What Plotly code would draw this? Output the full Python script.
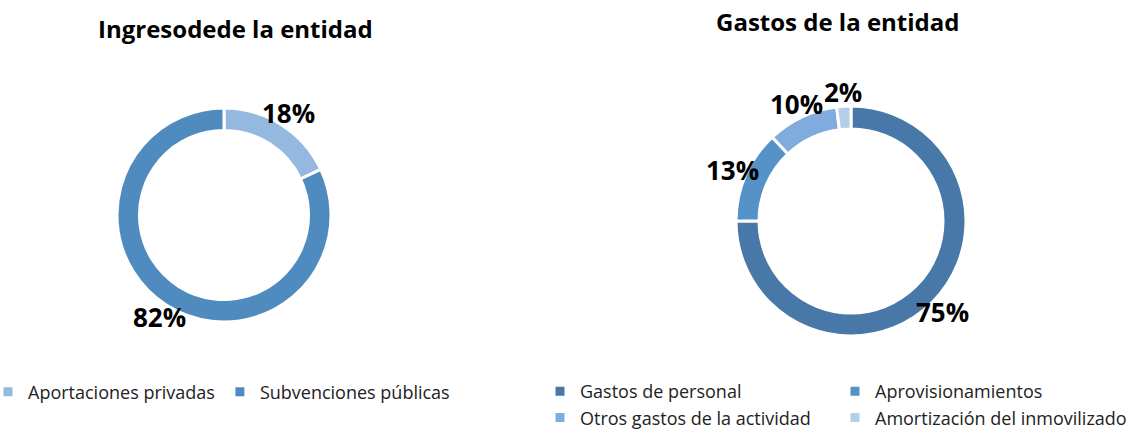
import math
import plotly.graph_objects as go

ing_labels = ["Aportaciones privadas", "Subvenciones públicas"]
ing_values = [18, 82]
ing_colors = ["#95B8E0", "#4F8BBF"]

gas_labels = ["Gastos de personal", "Aprovisionamientos", "Otros gastos de la actividad", "Amortización del inmovilizado"]
gas_values = [75, 13, 10, 2]
gas_colors = ["#4878A8", "#5592C8", "#7FACDC", "#B4CDE8"]

FONT = "Open Sans, Noto Sans, sans-serif"
W, H = 1129, 437
ML, MR = 112, 157          # plot-area margins (lets the right legend wrap into two columns)
PW = W - ML - MR

# donut geometry (pixels): centre x, centre y, outer radius
ING_GEOM = (224, 215, 107)
GAS_GEOM = (851, 221, 115)


def px(x):
    return (x - ML) / PW


def py(y):
    return 1 - y / H


def dom(cx, cy, r):
    return dict(x=[px(cx - r), px(cx + r)], y=[py(cy + r), py(cy - r)])


def pct_labels(values, geom, offset):
    """Outside-end percentage labels placed at each slice's mid-angle (clockwise from top)."""
    cx, cy, r = geom
    total = sum(values)
    out, cum = [], 0
    for v in values:
        mid = (cum + v / 2) / total
        cum += v
        th = 2 * math.pi * mid
        rl = r + offset
        out.append(dict(
            text=f"<b>{round(100 * v / total)}%</b>",
            x=px(cx + rl * math.sin(th)), y=py(cy - rl * math.cos(th)),
            xref="paper", yref="paper", showarrow=False, xanchor="center", yanchor="middle",
            font=dict(family=FONT, size=26, color="black"),
        ))
    return out


fig = go.Figure()
fig.add_trace(go.Pie(
    labels=ing_labels, values=ing_values, sort=False, direction="clockwise", rotation=0,
    hole=0.79, marker=dict(colors=ing_colors, line=dict(color="white", width=3)),
    textinfo="none", domain=dom(*ING_GEOM),
    legend="legend", hoverinfo="skip",
))
fig.add_trace(go.Pie(
    labels=gas_labels, values=gas_values, sort=False, direction="clockwise", rotation=0,
    hole=0.8, marker=dict(colors=gas_colors, line=dict(color="white", width=3)),
    textinfo="none", domain=dom(*GAS_GEOM),
    legend="legend2", hoverinfo="skip",
))

annotations = [
    dict(text="<b>Ingresodede la entidad</b>", x=px(235), y=py(28), xref="paper", yref="paper",
         showarrow=False, font=dict(size=24, family=FONT, color="black"), xanchor="center", yanchor="middle"),
    dict(text="<b>Gastos de la entidad</b>", x=px(837), y=py(22), xref="paper", yref="paper",
         showarrow=False, font=dict(size=24, family=FONT, color="black"), xanchor="center", yanchor="middle"),
]
annotations += pct_labels(ing_values, ING_GEOM, 14)
annotations += pct_labels(gas_values, GAS_GEOM, 14)

fig.update_layout(
    width=W, height=H,
    margin=dict(l=ML, r=MR, t=0, b=0, autoexpand=False),
    paper_bgcolor="white", plot_bgcolor="white",
    font=dict(family=FONT, color="#222222"),
    legend=dict(orientation="h", x=px(-12), y=py(392), xanchor="left", yanchor="middle",
                font=dict(size=18, family=FONT, color="#222222"), itemwidth=30),
    legend2=dict(orientation="h", x=px(540), y=py(373), xanchor="left", yanchor="top",
                 font=dict(size=18, family=FONT, color="#222222"), entrywidth=250, entrywidthmode="pixels",
                 itemwidth=30),
    annotations=annotations,
)

fig.write_html("out.html", post_script="document.body.style.margin='0';",
               config={"displayModeBar": False})
